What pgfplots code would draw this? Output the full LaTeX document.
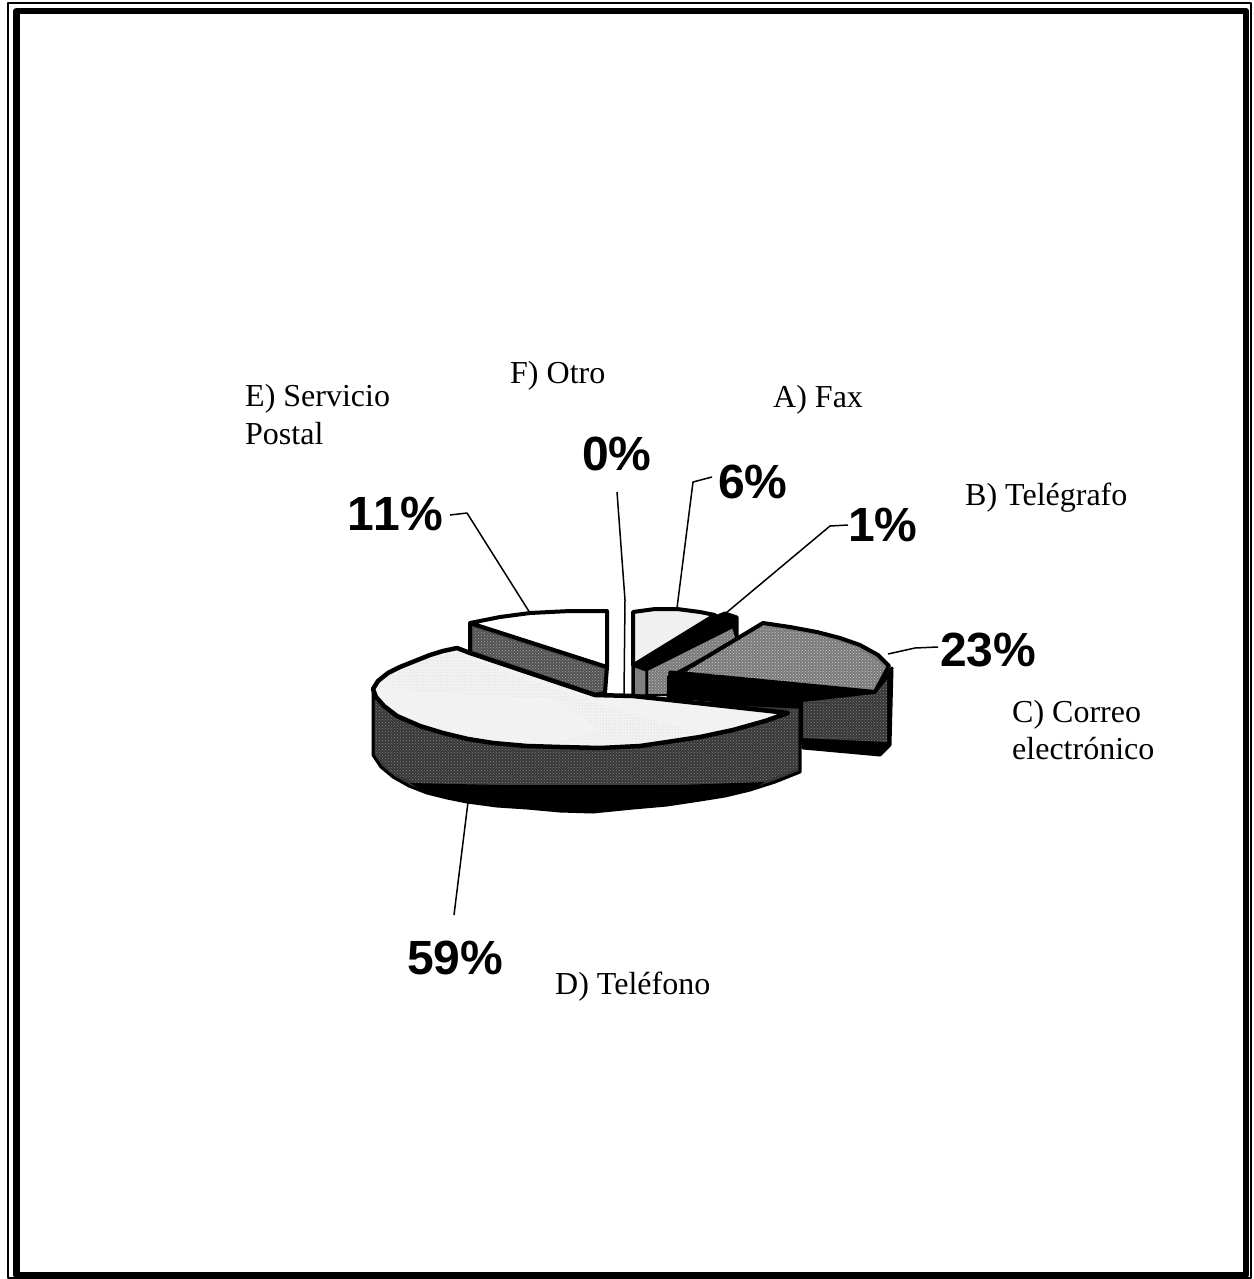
\documentclass[border=0pt]{standalone}
\usepackage{pgfplots}
\pgfplotsset{compat=1.18}
\usepackage{fontspec}
\setmainfont{Liberation Serif}
\newfontfamily\boldsans[BoldFont={Liberation Sans Bold},Kerning=Off]{Liberation Sans}
\usetikzlibrary{patterns}
\newcommand{\pct}[3]{\node[anchor=base west,inner sep=0pt] at (axis cs:#1,#2) {\boldsans\bfseries\fontsize{48}{48}\selectfont #3};}
\newcommand{\lab}[3]{\node[anchor=base west,inner sep=0pt] at (axis cs:#1,#2) {\fontsize{32}{32}\selectfont #3};}
\begin{document}
\begin{tikzpicture}
\begin{axis}[hide axis,scale only axis,width=1253pt,height=1279pt,xmin=0,xmax=1253,ymin=0,ymax=1279,y dir=reverse,clip=false,
  every axis plot/.append style={line join=round,no markers}]
% page extent
\addplot[draw=white,line width=0pt] coordinates {(0,0)(1253,0)(1253,1279)(0,1279)} --cycle;
% frame
\addplot[draw=black,line width=2pt] coordinates {(8,3)(1251,3)(1251,1278)(8,1278)} --cycle;
\addplot[draw=black,line width=6.5pt,fill=white] coordinates {(16.5,11)(1246,11)(1246,1275)(16.5,1275)} --cycle;
% slice E
\addplot[draw=black,line width=4pt,fill=black!68] coordinates {(470,623)(607,667)(605,693)(595,695)(470,653)} --cycle;
\addplot[draw=none,pattern=crosshatch dots,pattern color=black!35] coordinates {(473,628)(604,670)(602,690)(595,692)(473,650)} --cycle;
\addplot[draw=black,line width=4pt,fill=white] coordinates {(470,623)(500,617)(530,613)(570,611)(607,611)(607,667)} --cycle;
% slices A and B
\addplot[draw=black,line width=3.5pt,fill=black!50] coordinates {(633,665)(647,670)(647,696)(633,696)} --cycle;
\addplot[draw=black,line width=3pt,fill=black] coordinates {(637,663)(715,617)(725,613)(737,617)(737,640)(668,677)(647,670)} --cycle;
\addplot[draw=black,line width=2pt,fill=black!52] coordinates {(647,670)(733,627)(737,640)(668,677)(668,695)(647,695)} --cycle;
\addplot[draw=none,pattern=crosshatch dots,pattern color=black!25] coordinates {(649,671)(732,629)(735,639)(667,675)(667,693)(649,693)} --cycle;
\addplot[draw=black,line width=4pt,fill=black!6] coordinates {(633,612)(655,609)(677,609)(700,612)(715,615)(637,663)(633,665)} --cycle;
% slice C side and top
\addplot[draw=black,line width=3pt,fill=black] coordinates {(670,672)(668,697)(800,707)(803,748)(880,755)(890,745)(892,668)(878,692)} --cycle;
\addplot[draw=none,fill=black!78] coordinates {(803,702)(875,694)(887,680)(887,742)(803,738)} --cycle;
\addplot[draw=none,pattern=crosshatch dots,pattern color=black!50] coordinates {(803,702)(875,694)(887,680)(887,742)(803,738)} --cycle;
\addplot[draw=black,line width=4pt,fill=black!52] coordinates {(680,673)(763,623)(790,627)(817,632)(840,638)(860,645)(878,655)(889,666)(875,692)} --cycle;
\addplot[draw=none,pattern=crosshatch dots,pattern color=black!20] coordinates {(685,672)(763,626)(817,635)(858,648)(885,667)(873,689)} --cycle;
% slice D side
\addplot[draw=black,line width=3pt,fill=black!78] coordinates {(373,688)(373,755)(381,767)(393,777)(409,786)(427,793)(447,798)(467,802)(497,806)(527,808)(560,811)(593,812)(633,808)(667,805)(700,800)(725,796)(750,790)(775,782)(800,772)(800,707)} --cycle;
\addplot[draw=none,pattern=crosshatch dots,pattern color=black!50] coordinates {(375,700)(375,753)(390,772)(420,785)(593,785)(760,783)(798,768)(798,710)} --cycle;
\addplot[draw=none,fill=black] coordinates {(410,783)(500,785)(593,785)(680,785)(765,782)(750,790)(725,796)(700,800)(667,805)(633,808)(593,812)(560,811)(527,808)(497,806)(467,802)(447,798)(427,793)} --cycle;
% slice D top
\addplot[draw=black,line width=4.5pt,fill=black!5] coordinates {(457,648)(443,651)(430,655)(415,661)(400,667)(388,673)(378,681)(373,689)(376,697)(384,706)(397,716)(420,726)(443,733)(468,739)(493,743)(527,746)(560,747)(600,748)(640,746)(667,742)(700,737)(733,730)(765,721)(788,713)(670,700)(633,696)(595,695)(470,653)} --cycle;
\addplot[draw=none,pattern=dots,pattern color=black!22] coordinates {(458,652)(430,659)(400,671)(385,680)(400,690)(560,700)(600,730)(560,742)(640,742)(700,733)(600,705)(470,660)} --cycle;
% leaders
\addplot[draw=black,line width=1.5pt] coordinates {(677,608)(693,482)(712,477)};
\addplot[draw=black,line width=1.5pt] coordinates {(726,613)(830,526)(848,525)};
\addplot[draw=black,line width=1.5pt] coordinates {(888,654)(915,648)(938,647)};
\addplot[draw=black,line width=1.5pt] coordinates {(617,492)(625,600)(624,695)};
\addplot[draw=black,line width=1.5pt] coordinates {(530,613)(467,513)(450,515)};
\addplot[draw=black,line width=1.5pt] coordinates {(468,802)(454,915)};
% percentages
\pct{582}{470}{0\%}
\pct{718}{498}{6\%}
\pct{848}{541}{1\%}
\pct{940}{666}{23\%}
\pct{347}{530}{11\%}
\pct{407}{974}{59\%}
% labels
\lab{245}{406}{E) Servicio}
\lab{245}{444}{Postal}
\lab{510}{383}{F) Otro}
\lab{773}{407}{A) Fax}
\lab{965}{505}{B) Telégrafo}
\lab{1012}{722}{C) Correo}
\lab{1012}{759}{electrónico}
\lab{555}{994}{D) Teléfono}
\end{axis}
\end{tikzpicture}
\end{document}
